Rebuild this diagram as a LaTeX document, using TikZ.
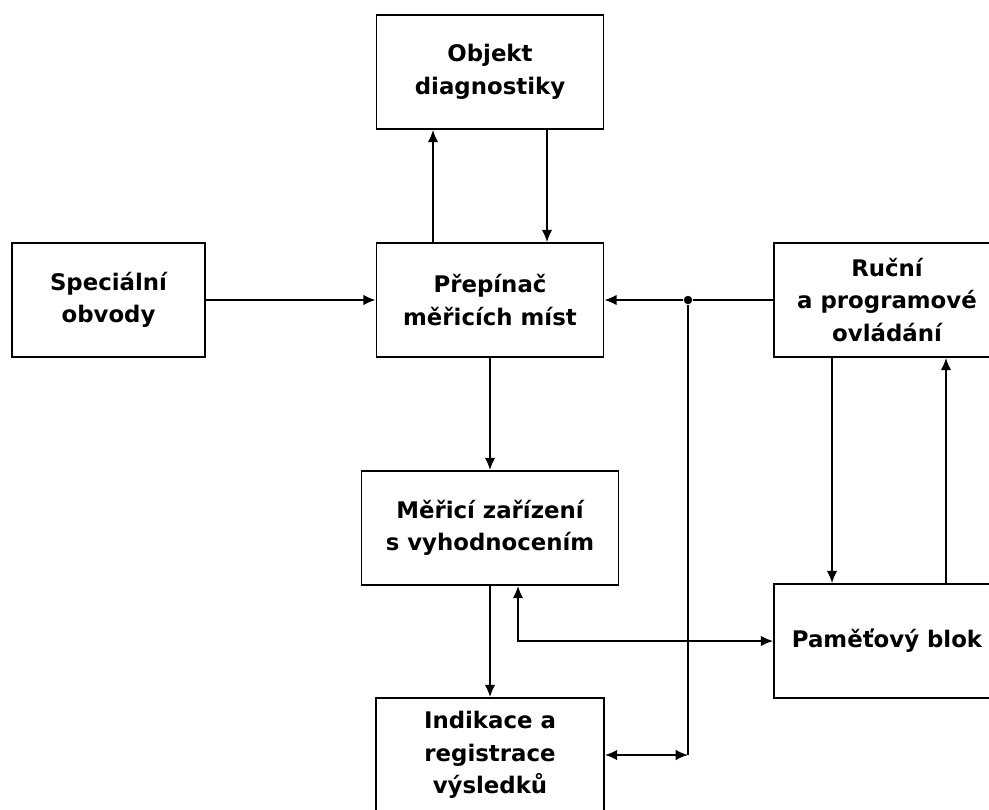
\documentclass[tikz,border=0pt]{standalone}
\usepackage{fontspec}
\setmainfont{DejaVu Sans}
\usepackage{tikz}
\usetikzlibrary{arrows.meta, positioning, calc}

\begin{document}
\begin{tikzpicture}[
  x=0.02cm, y=-0.02cm,
  block/.style={rectangle, draw, line width=1pt, minimum height=2.28cm,
    align=center, inner sep=2pt,
    font=\fontsize{13}{18.5}\selectfont\bfseries},
  arrow/.style={-{Latex[length=7pt, width=6pt]}, line width=1pt},
  biarrow/.style={{Latex[length=7pt, width=6pt]}-{Latex[length=7pt, width=6pt]}, line width=1pt},
  line/.style={line width=1pt}
]
\useasboundingbox (0,0) rectangle (989,810);
\clip (0,0) rectangle (989,810);

% Blocks
\node[block, minimum width=4.54cm] (obj) at (490,72)
  {Objekt\\diagnostiky};
\node[block, minimum width=4.54cm] (prep) at (490,300)
  {Přepínač\\měřicích míst};
\node[block, minimum width=3.86cm] (spec) at (108.5,300)
  {Speciální\\obvody};
\node[block, minimum width=4.52cm] (rucni) at (887,300)
  {Ruční\\a programové\\ovládání};
\node[block, minimum width=5.14cm] (mer) at (490,528)
  {Měřicí zařízení\\s vyhodnocením};
\node[block, minimum width=4.52cm] (pam) at (887,641)
  {Paměťový blok};
\node[block, minimum width=4.56cm] (ind) at (490,755)
  {Indikace a\\registrace\\výsledků};

% Junction
\node[circle, fill, inner sep=1.7pt] (jn) at (688,300) {};
\coordinate (cr) at (ind.east -| jn);

% Arrows
\draw[arrow] ([xshift=-1.14cm]prep.north) -- ([xshift=-1.14cm]obj.south);
\draw[arrow] ([xshift=1.14cm]obj.south) -- ([xshift=1.14cm]prep.north);
\draw[arrow] (spec) -- (prep);
\draw[line] (rucni.west) -- (jn);
\draw[arrow] (jn) -- (prep.east);
\draw[line] (jn) -- (cr);
\draw[biarrow] (ind.east) -- (cr);
\draw[arrow] (prep) -- (mer);
\draw[arrow] (mer) -- (ind);
\draw[biarrow] ([xshift=0.56cm]mer.south) |- (pam.west);
\draw[arrow] ([xshift=-1.1cm]rucni.south) -- ([xshift=-1.1cm]pam.north);
\draw[arrow] ([xshift=1.18cm]pam.north) -- ([xshift=1.18cm]rucni.south);
\end{tikzpicture}
\end{document}
